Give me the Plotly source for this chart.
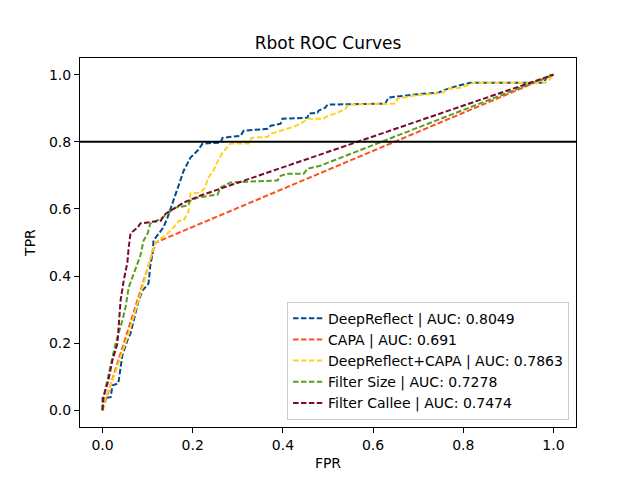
import plotly.graph_objects as go

# ---- data ----
deepreflect_fpr = [0, 0, 0.018, 0.022, 0.035, 0.040, 0.044, 0.055, 0.062, 0.073, 0.080, 0.089, 0.102, 0.106, 0.111, 0.113,
                   0.129, 0.135, 0.144, 0.157, 0.166, 0.180, 0.195, 0.211, 0.222, 0.262, 0.266, 0.306, 0.313, 0.366, 0.373,
                   0.395, 0.399, 0.455, 0.457, 0.477, 0.479, 0.494, 0.499, 0.627, 0.634, 0.705, 0.743, 0.765, 0.787, 0.816,
                   0.978, 0.987, 1.0]
deepreflect_tpr = [0, 0.036, 0.039, 0.074, 0.080, 0.128, 0.164, 0.208, 0.229, 0.289, 0.327, 0.357, 0.378, 0.432, 0.467, 0.506,
                   0.536, 0.545, 0.574, 0.625, 0.664, 0.714, 0.753, 0.774, 0.795, 0.798, 0.812, 0.818, 0.833, 0.839, 0.848,
                   0.854, 0.869, 0.872, 0.884, 0.887, 0.893, 0.902, 0.911, 0.914, 0.932, 0.943, 0.946, 0.958, 0.967, 0.976,
                   0.976, 0.997, 1.0]

capa_fpr = [0, 0.118, 1.0]
capa_tpr = [0, 0.5, 1.0]

drcapa_fpr = [0, 0.002, 0.007, 0.022, 0.040, 0.058, 0.073, 0.080, 0.091, 0.102, 0.111, 0.118, 0.133, 0.144, 0.151, 0.166,
              0.169, 0.180, 0.191, 0.195, 0.217, 0.228, 0.233, 0.246, 0.255, 0.266, 0.284, 0.324, 0.330, 0.366, 0.373,
              0.401, 0.424, 0.443, 0.455, 0.490, 0.501, 0.521, 0.539, 0.545, 0.650, 0.654, 0.690, 0.754, 0.765, 0.794,
              0.805, 0.823, 0.982, 0.989, 1.0]
drcapa_tpr = [0, 0.006, 0.039, 0.089, 0.158, 0.229, 0.298, 0.327, 0.378, 0.432, 0.476, 0.500, 0.515, 0.527, 0.536, 0.557,
              0.565, 0.565, 0.595, 0.646, 0.649, 0.664, 0.690, 0.714, 0.741, 0.768, 0.795, 0.795, 0.812, 0.815, 0.824,
              0.836, 0.845, 0.857, 0.869, 0.869, 0.878, 0.887, 0.899, 0.911, 0.914, 0.929, 0.938, 0.946, 0.958, 0.961,
              0.967, 0.976, 0.976, 0.982, 1.0]

size_fpr = [0, 0.002, 0.013, 0.024, 0.029, 0.044, 0.051, 0.058, 0.069, 0.078, 0.084, 0.091, 0.100, 0.106, 0.129, 0.144,
            0.162, 0.188, 0.195, 0.211, 0.255, 0.262, 0.284, 0.388, 0.395, 0.410, 0.446, 0.455, 0.483, 1.0]
size_tpr = [0, 0.039, 0.104, 0.170, 0.199, 0.268, 0.307, 0.366, 0.408, 0.440, 0.461, 0.506, 0.527, 0.557, 0.571, 0.586,
            0.604, 0.610, 0.625, 0.634, 0.643, 0.664, 0.679, 0.685, 0.699, 0.705, 0.705, 0.720, 0.729, 1.0]

callee_fpr = [0, 0.002, 0.013, 0.022, 0.033, 0.035, 0.040, 0.047, 0.055, 0.058, 0.062, 0.078, 0.084, 0.129, 0.140, 0.151,
              0.166, 0.180, 0.217, 1.0]
callee_tpr = [0, 0.039, 0.089, 0.149, 0.199, 0.238, 0.327, 0.387, 0.440, 0.485, 0.527, 0.545, 0.557, 0.565, 0.586, 0.595,
              0.607, 0.619, 0.640, 1.0]

series_names = ["DeepReflect | AUC: 0.8049", "CAPA | AUC: 0.691", "DeepReflect+CAPA | AUC: 0.7863",
                "Filter Size | AUC: 0.7278", "Filter Callee | AUC: 0.7474"]
threshold_tpr = 0.8
tick_vals = [0.0, 0.2, 0.4, 0.6, 0.8, 1.0]

series = [
    (deepreflect_fpr, deepreflect_tpr, "#004C8F"),
    (capa_fpr, capa_tpr, "#FF4F1F"),
    (drcapa_fpr, drcapa_tpr, "#FFD21F"),
    (size_fpr, size_tpr, "#5A9E1E"),
    (callee_fpr, callee_tpr, "#7A0A2E"),
]

FONT = "DejaVu Sans"
fig = go.Figure()
for (xs, ys, col), name in zip(series, series_names):
    fig.add_trace(go.Scatter(x=xs, y=ys, mode="lines", name=name,
                             line=dict(color=col, width=2, dash="5.5px,2.4px")))

fig.add_shape(type="line", xref="paper", x0=0, x1=1, yref="y", y0=threshold_tpr, y1=threshold_tpr,
              line=dict(color="black", width=2))

axis_common = dict(showline=True, linecolor="black", linewidth=1, mirror=True, ticks="outside",
                   ticklen=5, tickwidth=1, tickcolor="black", showgrid=False, zeroline=False,
                   tickvals=tick_vals, tickformat=".1f", range=[-0.05, 1.05],
                   tickfont=dict(family=FONT, size=14, color="black"))

# the page body has an 8px default margin, so the margins are offset to compensate
fig.update_layout(
    width=640, height=480,
    margin=dict(l=72, r=72, t=50, b=61),
    plot_bgcolor="white", paper_bgcolor="white",
    font=dict(family=FONT, size=14, color="black"),
    title=dict(text="Rbot ROC Curves", x=0.5, xref="paper", xanchor="center",
               y=1 - 35 / 480, yanchor="middle", font=dict(family=FONT, size=17, color="black")),
    xaxis=dict(title=dict(text="FPR", font=dict(family=FONT, size=14), standoff=6), **axis_common),
    yaxis=dict(title=dict(text="TPR", font=dict(family=FONT, size=14), standoff=10), **axis_common),
    legend=dict(x=0.986, xanchor="right", y=0.02, yanchor="bottom",
                bgcolor="rgba(255,255,255,0.8)", bordercolor="#cccccc", borderwidth=1,
                font=dict(family=FONT, size=14), tracegroupgap=0, itemwidth=30),
    showlegend=True,
)

fig.write_html("out.html")
